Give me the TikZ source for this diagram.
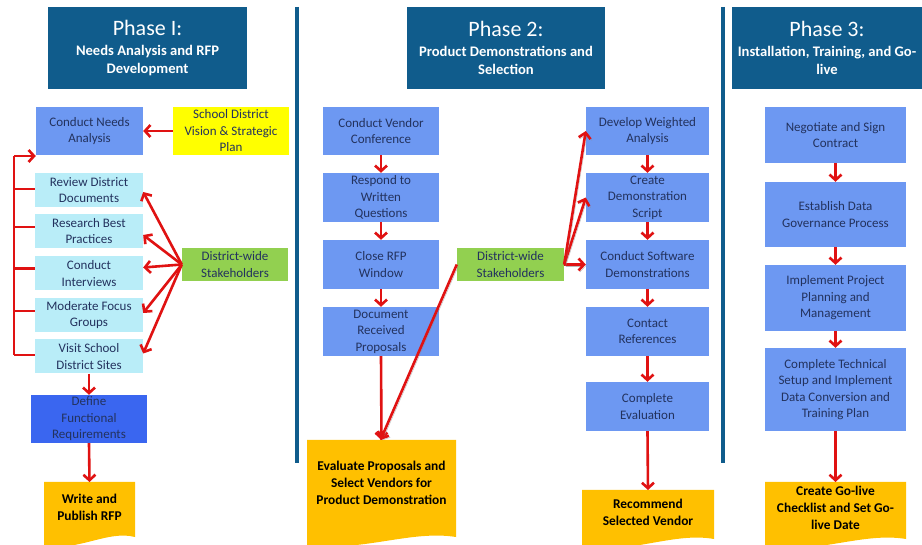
\documentclass[tikz,border=0pt]{standalone}
\usepackage{fontspec}
\setmainfont{Carlito}
\usetikzlibrary{arrows.meta,calc}
\definecolor{hdrblue}{HTML}{105C8C}
\definecolor{medblue}{HTML}{6D98F2}
\definecolor{lightcyan}{HTML}{B9EDF8}
\definecolor{brightblue}{HTML}{3A66F0}
\definecolor{stakegreen}{HTML}{92D050}
\definecolor{visionyellow}{HTML}{FFFF00}
\definecolor{docorange}{HTML}{FFC000}
\definecolor{arrred}{HTML}{E01212}
\definecolor{navytext}{HTML}{23325E}
\newcommand{\docshape}[4]{\fill[docorange] (#1,#2) -- (#3,#2) -- (#3,#4-9) .. controls ({#3-0.3*(#3-#1)},#4-16) and ({#1+0.4*(#3-#1)},#4+5) .. (#1,#4) -- cycle;}
\newcommand{\htitle}{\fontsize{22}{24}\selectfont}
\begin{document}
\begin{tikzpicture}[x=1pt,y=-1pt,
  hdr/.style={fill=hdrblue, text=white, inner sep=0pt, align=center, font=\fontsize{14.6}{18}\selectfont\bfseries},
  box/.style={inner sep=0pt, align=center, text=navytext, font=\fontsize{13}{16.5}\selectfont},
  bluebox/.style={box, fill=medblue},
  cyanbox/.style={box, fill=lightcyan, minimum width=108, minimum height=34},
  defbox/.style={box, fill=brightblue},
  greenbox/.style={box, fill=stakegreen},
  yellowbox/.style={box, fill=visionyellow},
  doctext/.style={inner sep=0pt, align=center, text=black, anchor=north, font=\fontsize{13.4}{17}\selectfont\bfseries},
  sepline/.style={draw=hdrblue, line width=4pt},
  redline/.style={draw=arrred, line width=2.6pt},
  arr/.style={redline, -{Straight Barb[length=5.5pt,width=12pt]}},
  shad/.style={preaction={draw=black!45, opacity=0.6, transform canvas={xshift=1.5pt,yshift=-1.5pt}}}
]
\useasboundingbox[fill=white] (0,0) rectangle (922,545);

% separators
\coordinate (s1t) at (297,7); \coordinate (s1b) at (297,463);
\coordinate (s2t) at (723,7); \coordinate (s2b) at (723,463);
\draw[sepline] (s1t) -- (s1b);
\draw[sepline] (s2t) -- (s2b);

% headers
\node[hdr, minimum width=199, minimum height=82] (h1) at (147.5,48)
 {{\htitle\mdseries Phase I:}\\[2pt]Needs Analysis and RFP\\Development};
\node[hdr, minimum width=198, minimum height=82] (h2) at (506,48)
 {{\htitle\mdseries Phase 2:}\\[2pt]Product Demonstrations and\\Selection};
\node[hdr, minimum width=190, minimum height=82] (h3) at (827,48)
 {{\htitle\mdseries Phase 3:}\\[2pt]Installation, Training, and Go-\\live};

% document shapes
\docshape{44}{482}{135}{546}
\docshape{307}{440}{456}{546}
\docshape{582}{490}{714}{548}
\docshape{765}{482}{906}{548}

% Phase 1
\node[bluebox, minimum width=107, minimum height=48] (cna) at (89.5,131) {Conduct Needs\\Analysis};
\node[yellowbox, minimum width=116, minimum height=48] (sdv) at (231,131) {School District\\Vision \& Strategic\\Plan};
\node[cyanbox] (rdd) at (89,190) {Review District\\Documents};
\node[cyanbox] (rbp) at (89,231) {Research Best\\Practices};
\node[cyanbox] (ci) at (89,273.5) {Conduct\\Interviews};
\node[cyanbox] (mfg) at (89,315) {Moderate Focus\\Groups};
\node[cyanbox] (vsd) at (89,356.5) {Visit School\\District Sites};
\node[greenbox, minimum width=106, minimum height=33] (dws1) at (235,264.5) {District-wide\\Stakeholders};
\node[defbox, minimum width=116, minimum height=48] (dfr) at (89,419) {Define\\Functional\\Requirements};
\node[doctext, minimum width=91, minimum height=50] (wpr) at (89.5,482) {Write and\\Publish RFP};

% Phase 2
\node[bluebox, minimum width=116, minimum height=48] (cvc) at (381,131) {Conduct Vendor\\Conference};
\node[bluebox, minimum width=116, minimum height=49] (rwq) at (381,197.5) {Respond to\\Written\\Questions};
\node[bluebox, minimum width=116, minimum height=49] (crw) at (381,264.5) {Close RFP\\Window};
\node[bluebox, minimum width=116, minimum height=49] (drp) at (381,331.5) {Document\\Received\\Proposals};
\node[doctext, minimum width=149, minimum height=86] (evp) at (381.5,440) {Evaluate Proposals and\\Select Vendors for\\Product Demonstration};
\node[greenbox, minimum width=107, minimum height=33] (dws2) at (510.5,264.5) {District-wide\\Stakeholders};
\node[bluebox, minimum width=123, minimum height=48] (dwa) at (647.5,131) {Develop Weighted\\Analysis};
\node[bluebox, minimum width=123, minimum height=49] (cds) at (647.5,197.5) {Create\\Demonstration\\Script};
\node[bluebox, minimum width=123, minimum height=49] (csd) at (647.5,264.5) {Conduct Software\\Demonstrations};
\node[bluebox, minimum width=123, minimum height=49] (cr) at (647.5,331.5) {Contact\\References};
\node[bluebox, minimum width=123, minimum height=49] (ce) at (647.5,406.5) {Complete\\Evaluation};
\node[doctext, minimum width=132, minimum height=44] (rsv) at (648,490) {Recommend\\Selected Vendor};

% Phase 3
\node[bluebox, minimum width=141, minimum height=56] (nsc) at (835.5,135) {Negotiate and Sign\\Contract};
\node[bluebox, minimum width=141, minimum height=65] (edg) at (835.5,214.5) {Establish Data\\Governance Process};
\node[bluebox, minimum width=141, minimum height=66] (ipp) at (835.5,298) {Implement Project\\Planning and\\Management};
\node[bluebox, minimum width=141, minimum height=83] (cts) at (835.5,389.5) {Complete Technical\\Setup and Implement\\Data Conversion and\\Training Plan};
\node[doctext, minimum width=141, minimum height=52] (cgl) at (835.5,482) {Create Go-live\\Checklist and Set Go-\\live Date};

% Phase 1 connectors
\draw[arr] (sdv.west) -- (cna.east);
\draw[arr] (dws1.west) -- ([yshift=-2pt]rdd.east);
\draw[arr] (dws1.west) -- ([yshift=-4pt]rbp.east);
\draw[arr] (dws1.west) -- ([yshift=6pt]ci.east);
\draw[arr] (dws1.west) -- ([yshift=2pt]mfg.east);
\draw[arr] (dws1.west) -- ([yshift=3pt]vsd.east);
\coordinate (bt) at (14,156);
\coordinate (bb) at (14,355);
\draw[redline] (bt) -- (bb);
\draw[arr] (bt) -- (bt -| cna.west);
\draw[redline] ([yshift=1pt]rdd.west -| bt) -- ([yshift=1pt]rdd.west);
\draw[redline] ([yshift=4pt]rbp.west -| bt) -- ([yshift=4pt]rbp.west);
\draw[redline] ([yshift=5pt]ci.west -| bt) -- ([yshift=5pt]ci.west);
\draw[redline] ([yshift=4pt]mfg.west -| bt) -- ([yshift=4pt]mfg.west);
\draw[redline] (bb) -- (bb -| vsd.west);
\draw[arr] (vsd.south) -- (dfr.north);
\draw[arr] (dfr.south) -- (wpr.north);

% Phase 2 connectors
\draw[arr] (cvc.south) -- (rwq.north);
\draw[arr] (rwq.south) -- (crw.north);
\draw[arr] (crw.south) -- (drp.north);
\draw[arr] (drp.south) -- (evp.north);
\draw[arr, shad] (dws2.west) -- ([xshift=-1pt]evp.north);
\draw[arr, shad] (dws2.east) -- (csd.west);
\draw[arr, shad] (dws2.east) -- (cds.west);
\draw[arr, shad] (dws2.east) -- (dwa.west);
\draw[arr] (dwa.south) -- (cds.north);
\draw[arr] (cds.south) -- (csd.north);
\draw[arr] (csd.south) -- (cr.north);
\draw[arr] (cr.south) -- (ce.north);
\draw[arr] (ce.south) -- (rsv.north);

% Phase 3 connectors
\draw[arr] (nsc.south) -- (edg.north);
\draw[arr] (edg.south) -- (ipp.north);
\draw[arr] (ipp.south) -- (cts.north);
\draw[arr] (cts.south) -- (cgl.north);
\end{tikzpicture}
\end{document}
